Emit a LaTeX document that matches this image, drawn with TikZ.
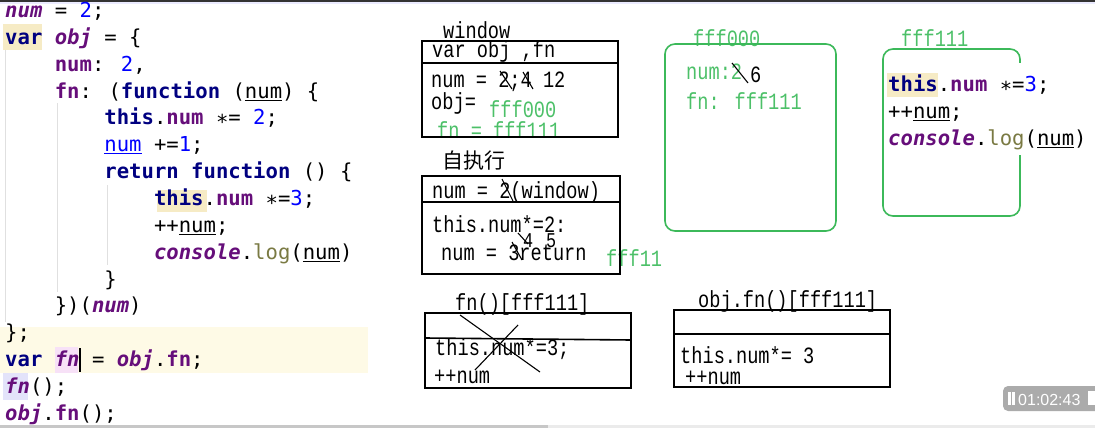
\documentclass[tikz,border=0pt]{standalone}
\usepackage{fontspec}
\usepackage{graphicx}
\newfontfamily\codefont{DejaVu Sans Mono}
\newfontfamily\simfont{Liberation Mono}[FakeStretch=0.8]
\newfontfamily\cjkfont{Noto Sans CJK SC}
\newfontfamily\uifont{Liberation Sans}
\definecolor{kwc}{HTML}{000080}
\definecolor{pvc}{HTML}{660E7A}
\definecolor{numc}{HTML}{0000FF}
\definecolor{logc}{HTML}{7A7A43}
\definecolor{hlc}{HTML}{F6EBC5}
\definecolor{linec}{HTML}{FEFAE6}
\definecolor{pinkc}{HTML}{F7E1F7}
\definecolor{lavc}{HTML}{E3E3FA}
\definecolor{grn}{HTML}{3CB95A}
\definecolor{grnt}{HTML}{4CC068}
\definecolor{badge}{HTML}{ABABAB}
\newbox\ulbox
\newcommand\cKw[1]{\textcolor{kwc}{\bfseries #1}}
\newcommand\cVar[1]{\textcolor{pvc}{\bfseries\itshape #1}}
\newcommand\cProp[1]{\textcolor{pvc}{\bfseries #1}}
\newcommand\cNum[1]{\textcolor{numc}{#1}}
\newcommand\cLog[1]{\textcolor{logc}{#1}}
\newcommand\cUl[1]{\setbox\ulbox\hbox{#1}\rlap{\rule[-2.5pt]{\wd\ulbox}{1pt}}\box\ulbox}
\newcommand\cStar{\raisebox{-0.22em}{*}}
\tikzset{
  code/.style={anchor=base west, inner sep=0pt, font=\codefont\fontsize{20.6}{24}\selectfont},
  sim/.style={anchor=base west, inner sep=0pt, font=\simfont\fontsize{23.3}{26}\selectfont},
  simsmall/.style={anchor=base west, inner sep=0pt, font=\simfont\fontsize{21}{24}\selectfont},
  simg/.style={sim, text=grnt},
  framebox/.style={draw=black, line width=1.6pt},
  heapbox/.style={draw=grn, line width=1.6pt, rounded corners=10pt},
  strike/.style={draw=black, line width=1.1pt},
  guide/.style={draw=black!12, line width=1pt}
}
\begin{document}
\begin{tikzpicture}[x=1pt,y=-1pt]
\useasboundingbox (0,0) rectangle (1095,428);
\fill[white] (0,0) rectangle (1095,428);
% top and bottom window edges
\fill[black!80] (0,0) rectangle (1095,2);
\fill[blue!8] (0,2) rectangle (1095,4);
\fill[black!22] (0,425) rectangle (548,428);
\fill[black!8] (548,425) rectangle (1095,428);
% editor highlights
\fill[linec] (0,327) rectangle (368,373);
\fill[hlc] (3,24) rectangle (42,50);
\fill[hlc] (157,190) rectangle (207,212);
\fill[pinkc] (55,347) rectangle (78,373);
\fill[lavc] (3,373) rectangle (28,400);
\draw[guide] (5,50) -- (5,322);
\draw[guide] (57,103) -- (57,292);
\draw[guide] (107,185) -- (107,265);
% code lines
\node[code] (l1) at (5,17.5) {\cVar{num} = \cNum{2};};
\node[code] (l2) at (5,44.4) {\cKw{var} \cVar{obj} = \{};
\node[code] (l3) at (54.6,71.2) {\cProp{num}: \cNum{2},};
\node[code] (l4) at (54.6,98.1) {\cProp{fn}: (\cKw{function} (\cUl{num}) \{};
\node[code] (l5) at (104.2,124.9) {\cKw{this}.\cProp{num} \cStar= \cNum{2};};
\node[code] (l6) at (104.2,151.8) {\textcolor{numc}{\cUl{num}} +=\cNum{1};};
\node[code] (l7) at (104.2,178.6) {\cKw{return} \cKw{function} () \{};
\node[code] (l8) at (153.8,205.5) {\cKw{this}.\cProp{num} \cStar=\cNum{3};};
\node[code] (l9) at (153.8,232.3) {++\cUl{num};};
\node[code] (l10) at (153.8,259.2) {\cVar{console}.\cLog{log}(\cUl{num})};
\node[code] (l11) at (104.2,286) {\}};
\node[code] (l12) at (54.6,312.9) {\})(\cVar{num})};
\node[code] (l13) at (5,339.7) {\};};
\node[code] (l14) at (5,366.6) {\cKw{var} \cVar{fn}\hspace{0pt} = \cVar{obj}.\cProp{fn};};
\node[code] (l15) at (5,393.4) {\cVar{fn}();};
\node[code] (l16) at (5,420.3) {\cVar{obj}.\cProp{fn}();};
\draw[black, line width=1.3pt] (80,348) -- (80,372);
% window box
\node[sim] (wlab) at (443,39) {window};
\node[sim] (w1) at (432,58) {var obj ,fn};
\node[sim] (w2) at (431,88) {num = 2;4 12};
\node[sim] (w3) at (431,110) {obj=};
\node[simg] (w4) at (489,117) {fff000};
\node[simg] (w5) at (437,138) {fn = fff111};
\draw[framebox] (422,41) rectangle (618,137);
\draw[framebox] (422,63) -- (618,63);
\draw[strike] (500,71) -- (512,89);
\draw[strike] (523,72) -- (533,89);
% self-executing box
\node[anchor=base west, inner sep=0pt, font=\cjkfont\fontsize{21}{24}\selectfont] (slab) at (442,168) {自执行};
\node[sim] (s1) at (432,198) {num = 2(window)};
\node[sim] (s2) at (432,232) {this.num*=2:};
\node[sim] (s3) at (441,260) {num = 3return};
\node[simsmall] (s4) at (523,247) {4};
\node[simsmall] (s5) at (546,247) {5};
\node[simg] (s6) at (606,266) {fff11};
\draw[framebox] (422,176) rectangle (620,274);
\draw[framebox] (422,202) -- (620,202);
\draw[strike] (502,179) -- (513,201);
\draw[strike] (512,242) -- (522,260);
\draw[strike] (518,233) -- (528,244);
% heap fff000
\node[simg] (h0lab) at (693,47) {fff000};
\node[simg] (h0a) at (686,80) {num:2};
\node[sim] (h0b) at (750,82) {6};
\node[simg] (h0c) at (686,110) {fn: fff111};
\draw[heapbox] (665,44) rectangle (836,231);
\draw[strike] (732,63) -- (748,83);
% heap fff111
\node[simg] (h1lab) at (901,47) {fff111};
\draw[heapbox] (883,49) rectangle (1020,216);
\fill[white] (886,63) rectangle (1095,155);
\fill[hlc] (887,73) rectangle (938,97);
\node[code] (h1a) at (888,92) {\cKw{this}.\cProp{num} \cStar=\cNum{3};};
\node[code] (h1b) at (888,118.5) {++\cUl{num};};
\node[code] (h1c) at (888,145) {\cVar{console}.\cLog{log}(\cUl{num})};
% fn() box
\node[sim] (flab) at (455,310) {fn()[fff111]};
\node[sim] (f1) at (435,355) {this.num*=3;};
\node[sim] (f2) at (434,383) {++num};
\draw[framebox] (425,313) rectangle (631,388);
\draw[framebox] (425,338) -- (631,340);
\draw[strike] (460,315) -- (540,372);
\draw[strike] (518,325) -- (475,370);
% obj.fn() box
\node[sim] (olab) at (698,307) {obj.fn()[fff111]};
\node[sim] (o1) at (680,363) {this.num*= 3};
\node[sim] (o2) at (685,384) {++num};
\draw[framebox] (674,310) rectangle (890,387);
\draw[framebox] (674,334) -- (890,334);
% timer badge
\begin{scope}
\clip (0,0) rectangle (1095,428);
\fill[badge, rounded corners=5pt] (1003,386) rectangle (1110,411);
\fill[white] (1008,392) rectangle (1010.5,405);
\fill[white] (1012,392) rectangle (1014.5,405);
\node[anchor=base west, inner sep=0pt, text=white, font=\uifont\fontsize{16}{18}\selectfont] (timer) at (1018,405) {01:02:43};
\fill[white] (1088,391) rectangle (1100,405);
\end{scope}
\end{tikzpicture}
\end{document}
